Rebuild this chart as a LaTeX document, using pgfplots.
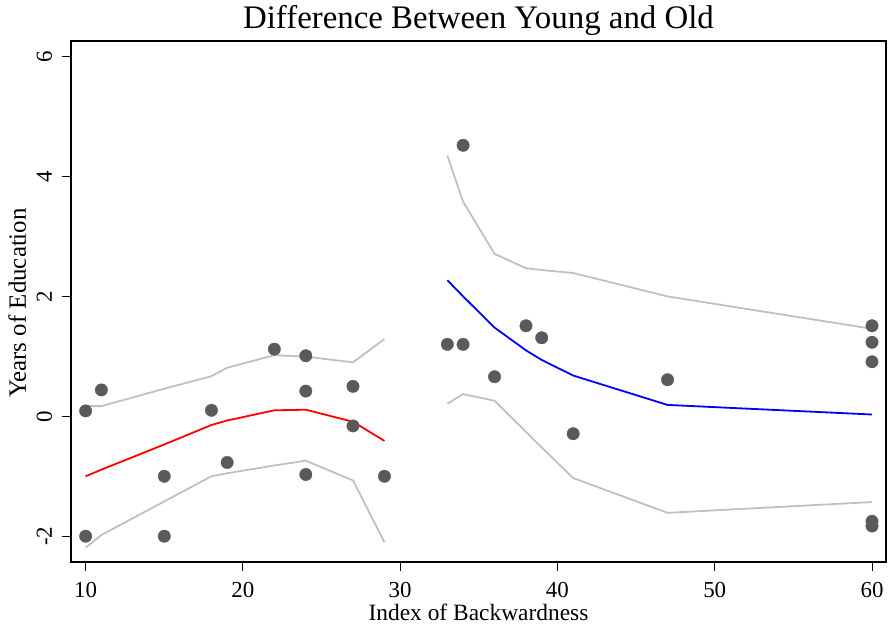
\documentclass[border=0pt]{standalone}
\usepackage{fontspec}
\setmainfont{Liberation Serif}
\usepackage{pgfplots}
\pgfplotsset{compat=1.18}
\definecolor{dotgray}{RGB}{90,90,90}
\definecolor{cigray}{RGB}{192,192,192}
\begin{document}
\begin{tikzpicture}
\begin{axis}[name=ax,
  width=815bp, height=521bp, scale only axis,
  xmin=9.07, xmax=60.89, ymin=-2.43, ymax=6.26,
  xtick={10,20,30,40,50,60}, ytick={-2,0,2,4,6},
  tick align=outside, xtick pos=bottom, ytick pos=left,
  major tick length=9bp,
  tick style={black, line width=1bp},
  axis line style={black, line width=1.2bp},
  /pgf/number format/assume math mode=true,
  xticklabel style={font=\fontsize{23}{23}\selectfont, anchor=base, yshift=-26bp},
  yticklabel style={font=\fontsize{23}{23}\selectfont, xshift=-10bp, rotate=90, anchor=base},
  title={Difference Between Young and Old},
  title style={font=\fontsize{33}{33}\selectfont, at={(0.5,1)}, anchor=base, yshift=7bp},
  xlabel={Index of Backwardness},
  xlabel style={font=\fontsize{23.5}{23.5}\selectfont, at={(0.5,0)}, anchor=base, yshift=-58bp},
  ylabel={Years of Education},
  ylabel style={font=\fontsize{25}{25}\selectfont, at={(0,0.497)}, anchor=base, rotate=0, yshift=45bp},
]
% upper CI left
\addplot[cigray, line width=1.8bp] coordinates {
(10,0.17) (11,0.17) (15,0.46) (18,0.67) (19,0.81) (22,1.02) (24,0.995) (27,0.90) (29,1.29)};
% lower CI left
\addplot[cigray, line width=1.8bp] coordinates {
(10,-2.19) (11,-1.98) (15,-1.42) (18,-1.00) (19,-0.95) (22,-0.82) (24,-0.74) (27,-1.07) (29,-2.10)};
% upper CI right
\addplot[cigray, line width=1.8bp] coordinates {
(33,4.35) (34,3.58) (36,2.71) (38,2.47) (39,2.44) (41,2.39) (47,2.00) (60,1.46)};
% lower CI right
\addplot[cigray, line width=1.8bp] coordinates {
(33,0.21) (34,0.37) (36,0.26) (38,-0.26) (39,-0.52) (41,-1.03) (47,-1.61) (60,-1.43)};
% fitted left
\addplot[red, line width=1.8bp] coordinates {
(10,-1.00) (11,-0.89) (15,-0.47) (18,-0.145) (19,-0.07) (22,0.10) (24,0.11) (27,-0.09) (29,-0.41)};
% fitted right
\addplot[blue, line width=1.8bp] coordinates {
(33,2.27) (34,2.00) (36,1.48) (38,1.10) (39,0.94) (41,0.68) (47,0.19) (60,0.03)};
% observations
\addplot[only marks, mark=*, mark size=6.2bp, mark options={draw=dotgray, fill=dotgray}] coordinates {
(10,0.09) (11,0.44) (10,-2.0) (15,-1.0) (15,-2.0) (18,0.10) (19,-0.77)
(22,1.12) (24,1.01) (24,0.42) (24,-0.97) (27,0.50) (27,-0.16) (29,-1.0)
(33,1.20) (34,4.52) (34,1.20) (36,0.66) (38,1.51) (39,1.31) (41,-0.29)
(47,0.61) (60,1.51) (60,1.235) (60,0.91) (60,-1.75) (60,-1.83)};
\end{axis}
\pgfresetboundingbox
\path[use as bounding box] ([xshift=-71bp,yshift=-64bp]ax.south west) rectangle ([xshift=2bp,yshift=41bp]ax.north east);
\end{tikzpicture}
\end{document}
